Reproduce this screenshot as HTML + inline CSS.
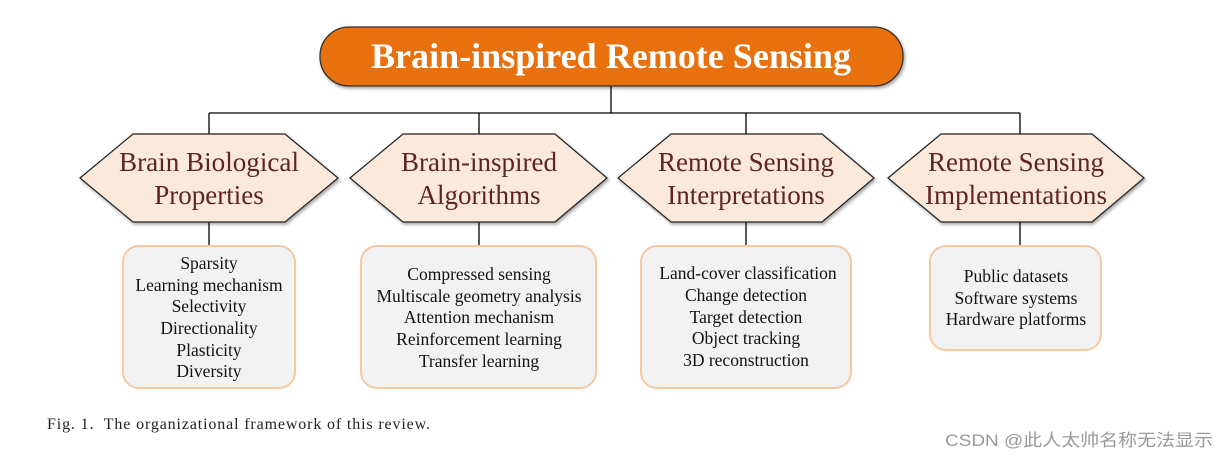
<!DOCTYPE html>
<html><head><meta charset="utf-8"><style>
body{margin:0;background:#fff;width:1230px;height:460px;overflow:hidden}
svg{display:block}
</style></head><body>
<svg width="1230" height="460" viewBox="0 0 1230 460" xmlns="http://www.w3.org/2000/svg">
<defs><filter id="s" x="-10%" y="-10%" width="120%" height="130%"><feDropShadow dx="1.5" dy="2" stdDeviation="1.5" flood-color="#000" flood-opacity="0.35"/></filter></defs>
<g stroke="#000" stroke-width="1.3" fill="none">
<line x1="611" y1="86" x2="611" y2="113"/>
<line x1="209" y1="113" x2="1020" y2="113"/>
<line x1="209" y1="113" x2="209" y2="134"/>
<line x1="479" y1="113" x2="479" y2="134"/>
<line x1="746" y1="113" x2="746" y2="134"/>
<line x1="1020" y1="113" x2="1020" y2="134"/>
<line x1="209" y1="222" x2="209" y2="246"/>
<line x1="479" y1="222" x2="479" y2="246"/>
<line x1="746" y1="222" x2="746" y2="246"/>
<line x1="1020" y1="222" x2="1020" y2="246"/>
</g>
<rect x="320" y="27" width="583" height="59" rx="29" fill="#e8700f" stroke="#333" stroke-width="1.3" filter="url(#s)"/>
<text x="611" y="68" text-anchor="middle" font-family="Liberation Serif,serif" font-weight="bold" font-size="36" fill="#fff" textLength="480" lengthAdjust="spacingAndGlyphs">Brain-inspired Remote Sensing</text>
<g fill="#fbeadb" stroke="#222" stroke-width="1.2" filter="url(#s)">
<polygon points="80,178 133,134 285,134 338,178 285,222 133,222"/>
<polygon points="350,178 403,134 555,134 607,178 555,222 403,222"/>
<polygon points="618,178 671,134 822,134 874,178 822,222 671,222"/>
<polygon points="888,178 941,134 1092,134 1144,178 1092,222 941,222"/>
</g>
<g font-family="Liberation Serif,serif" font-size="27" fill="#5e2424" text-anchor="middle">
<text x="209" y="171" textLength="180" lengthAdjust="spacingAndGlyphs">Brain Biological</text><text x="209" y="204">Properties</text>
<text x="479" y="171">Brain-inspired</text><text x="479" y="204">Algorithms</text>
<text x="746" y="171" textLength="176" lengthAdjust="spacingAndGlyphs">Remote Sensing</text><text x="746" y="204">Interpretations</text>
<text x="1016" y="171" textLength="176" lengthAdjust="spacingAndGlyphs">Remote Sensing</text><text x="1016" y="204" textLength="182" lengthAdjust="spacingAndGlyphs">Implementations</text>
</g>
<g fill="#f2f2f2" stroke="#f8c9a0" stroke-width="2">
<rect x="123" y="246" width="172" height="142" rx="16"/>
<rect x="361" y="246" width="235" height="142" rx="16"/>
<rect x="641" y="246" width="210" height="142" rx="16"/>
<rect x="930" y="246" width="171" height="104" rx="16"/>
</g>
<g font-family="Liberation Serif,serif" font-size="17.5" fill="#111" text-anchor="middle">
<text x="209" y="269">Sparsity</text><text x="209" y="291">Learning mechanism</text><text x="209" y="312">Selectivity</text><text x="209" y="334">Directionality</text><text x="209" y="356">Plasticity</text><text x="209" y="377">Diversity</text>
<text x="479" y="280">Compressed sensing</text><text x="479" y="302">Multiscale geometry analysis</text><text x="479" y="323">Attention mechanism</text><text x="479" y="345">Reinforcement learning</text><text x="479" y="367">Transfer learning</text>
<text x="748" y="279">Land-cover classification</text><text x="746" y="301">Change detection</text><text x="746" y="323">Target detection</text><text x="746" y="344">Object tracking</text><text x="746" y="366">3D reconstruction</text>
<text x="1016" y="282">Public datasets</text><text x="1016" y="304">Software systems</text><text x="1016" y="325">Hardware platforms</text>
</g>
<text x="47" y="429" font-family="Liberation Serif,serif" font-size="16" fill="#222" textLength="383" lengthAdjust="spacing" xml:space="preserve">Fig. 1.  The organizational framework of this review.</text>
<text x="945" y="446" font-family="Liberation Sans,Noto Sans CJK SC,sans-serif" font-size="17" fill="#999" textLength="268" lengthAdjust="spacingAndGlyphs">CSDN @此人太帅名称无法显示</text>
</svg>
</body></html>
